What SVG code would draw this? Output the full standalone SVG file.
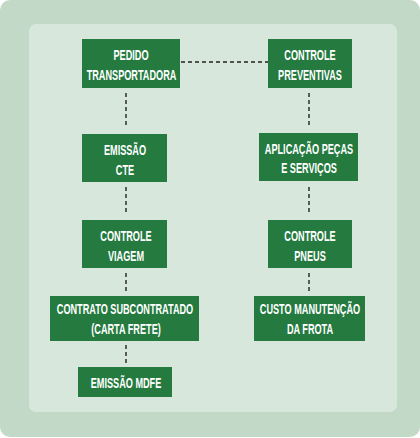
<svg xmlns="http://www.w3.org/2000/svg" width="420" height="438" viewBox="0 0 420 438">
<style>
.n{fill:#247a3f}
.t{font-family:"Liberation Sans",Arial,sans-serif;font-weight:bold;font-size:15px;fill:#fff;text-anchor:middle}
.c{stroke:#222;stroke-width:1.4;fill:none;stroke-dasharray:4 3}
</style>
<rect x="0" y="0" width="420" height="438" fill="#ffffff"/>
<rect x="0" y="0" width="420" height="437" rx="10" fill="#c3d9c7"/>
<rect x="29" y="24" width="368" height="388" rx="7" fill="#d7e7dc"/>
<g id="connectors">
<line class="c" x1="181" y1="62" x2="268" y2="62"/>
<line class="c" x1="126" y1="93" x2="126" y2="128"/>
<line class="c" x1="309" y1="93" x2="309" y2="128"/>
<line class="c" x1="126" y1="187" x2="126" y2="215"/>
<line class="c" x1="309" y1="187" x2="309" y2="215"/>
<line class="c" x1="126" y1="273" x2="126" y2="293"/>
<line class="c" x1="309" y1="273" x2="309" y2="293"/>
<line class="c" x1="126" y1="345" x2="126" y2="365"/>
</g>
<g id="pedido">
<rect class="n" x="82" y="39" width="98" height="49"/>
<text class="t" transform="translate(131,60) scale(0.61,1)">PEDIDO</text>
<text class="t" transform="translate(131.5,80) scale(0.61,1)">TRANSPORTADORA</text>
</g>
<g id="controle-preventivas">
<rect class="n" x="268" y="39" width="84" height="49"/>
<text class="t" transform="translate(310,60) scale(0.61,1)">CONTROLE</text>
<text class="t" transform="translate(310,80) scale(0.61,1)">PREVENTIVAS</text>
</g>
<g id="emissao-cte">
<rect class="n" x="82" y="134" width="85" height="48"/>
<text class="t" transform="translate(125,155) scale(0.61,1)">EMISSÃO</text>
<text class="t" transform="translate(125,175) scale(0.61,1)">CTE</text>
</g>
<g id="aplicacao">
<rect class="n" x="259" y="133" width="99" height="48"/>
<text class="t" transform="translate(309,154) scale(0.61,1)">APLICAÇÃO PEÇAS</text>
<text class="t" transform="translate(309,173) scale(0.61,1)">E SERVIÇOS</text>
</g>
<g id="controle-viagem">
<rect class="n" x="82" y="220" width="85" height="48"/>
<text class="t" transform="translate(126,241) scale(0.61,1)">CONTROLE</text>
<text class="t" transform="translate(126,261) scale(0.61,1)">VIAGEM</text>
</g>
<g id="controle-pneus">
<rect class="n" x="268" y="220" width="84" height="48"/>
<text class="t" transform="translate(310,241) scale(0.61,1)">CONTROLE</text>
<text class="t" transform="translate(310,261) scale(0.61,1)">PNEUS</text>
</g>
<g id="contrato">
<rect class="n" x="50" y="296" width="149" height="45"/>
<text class="t" transform="translate(125,314) scale(0.61,1)">CONTRATO SUBCONTRATADO</text>
<text class="t" transform="translate(126,334) scale(0.61,1)">(CARTA FRETE)</text>
</g>
<g id="custo">
<rect class="n" x="254" y="296" width="111" height="45"/>
<text class="t" transform="translate(310,314) scale(0.61,1)">CUSTO MANUTENÇÃO</text>
<text class="t" transform="translate(310,334) scale(0.61,1)">DA FROTA</text>
</g>
<g id="emissao-mdfe">
<rect class="n" x="78" y="367" width="94" height="30"/>
<text class="t" transform="translate(126,388) scale(0.61,1)">EMISSÃO MDFE</text>
</g>
</svg>
